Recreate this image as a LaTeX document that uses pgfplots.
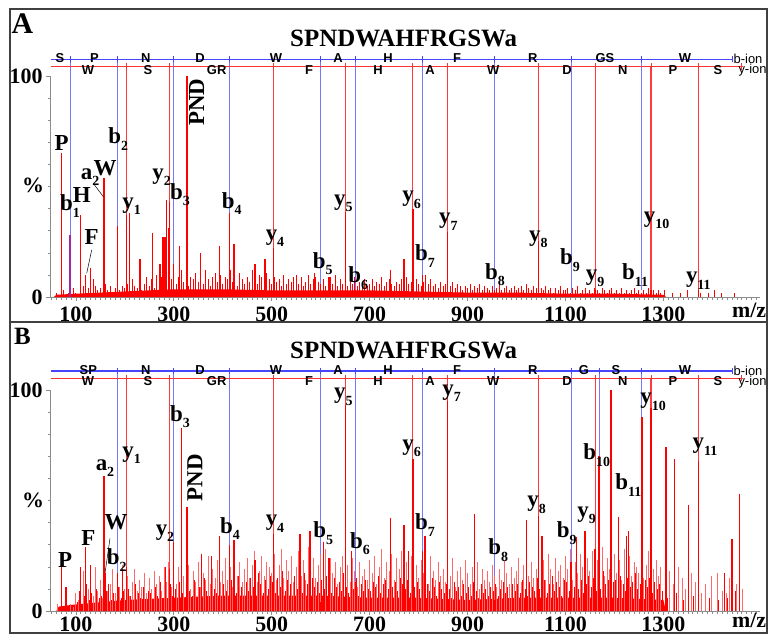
\documentclass[border=0pt]{standalone}
\usepackage{pgfplots}
\pgfplotsset{compat=1.18}
\usepackage{fontspec}
\setmainfont{Liberation Serif}
\newfontfamily\arialf{Liberation Sans}
\definecolor{ladb}{RGB}{70,70,255}
\definecolor{ladr}{RGB}{255,50,50}
\definecolor{annb}{RGB}{120,120,255}
\definecolor{annr}{RGB}{255,60,60}
\definecolor{pinkr}{RGB}{255,105,105}
\definecolor{purp}{RGB}{160,40,160}
\newcommand{\lf}{\fontsize{23}{23}\selectfont\bfseries}
\newcommand{\ion}[2]{#1\raisebox{-0.28em}{\fontsize{14}{14}\selectfont #2}}
\newcommand{\lad}{\arialf\fontsize{13}{13}\selectfont\bfseries}
\newcommand{\ladn}{\arialf\fontsize{13}{13}\selectfont}
\newcommand{\tk}{\fontsize{22}{22}\selectfont\bfseries}
\tikzset{lbl/.style={font=\lf, inner sep=0pt}}
\pgfplotsset{panel/.style={
  scale only axis, width=710bp, height=221bp, anchor=south west,
  xmin=47.15, xmax=1497.3, ymin=0, ymax=100,
  axis x line*=bottom, axis y line*=left,
  axis line style={black!45, line width=0.7bp},
  xtick={100,300,500,700,900,1100,1300},
  xticklabels={100,300,500,700,900,1100,1300},
  minor xtick={50,60,...,1490},
  ytick={0,100}, yticklabels={0,100},
  minor ytick={10,20,...,90},
  tick style={black!45, line width=0.6bp},
  tick align=outside,
  major tick length=4bp, minor tick length=2.5bp,
  yticklabel style={font=\tk, anchor=east},
  clip=false,
  unbounded coords=jump,
}}
\begin{document}
\begin{tikzpicture}
\path[use as bounding box] (0,0) rectangle (771bp,-635bp);
\draw[black!75, line width=1.6bp] (10bp,-9bp) rectangle (767bp,-322bp);
\draw[black!75, line width=1.6bp] (10bp,-322bp) rectangle (767bp,-633bp);
%================ PANEL A =================
\begin{axis}[panel, at={(50bp,-297bp)}, xticklabel style={font=\tk, anchor=base, inner sep=0pt, yshift=-20bp}]
\addplot[color=annb, line width=0.9bp] coordinates {
(88.04,107.6)(88.04,0)(88.04,nan) (185.09,107.6)(185.09,32)(185.09,nan)
(299.13,107.6)(299.13,15)(299.13,nan) (414.16,107.6)(414.16,38)(414.16,nan)
(600.24,107.6)(600.24,6)(600.24,nan) (671.28,107.6)(671.28,3)(671.28,nan)
(808.34,107.6)(808.34,10)(808.34,nan) (955.41,107.6)(955.41,2)(955.41,nan)
(1111.51,107.6)(1111.51,2)(1111.51,nan) (1255.56,107.6)(1255.56,3)};
\addplot[color=annr, line width=1.1bp] coordinates {
(204.11,104.3)(204.11,37)(204.11,nan) (291.15,104.3)(291.15,43)(291.15,nan)
(504.27,104.3)(504.27,22)(504.27,nan) (651.34,104.3)(651.34,38.6)(651.34,nan)
(788.39,104.3)(788.39,40)(788.39,nan) (859.43,104.3)(859.43,29.5)(859.43,nan)
(1045.51,104.3)(1045.51,25.5)(1045.51,nan) (1160.54,104.3)(1160.54,3)(1160.54,nan)
(1274.58,104.3)(1274.58,3)(1274.58,nan) (1371.63,104.3)(1371.63,3)};
\addplot[fill=red, draw=none] coordinates {(55,0)(60,1)(100,1.5)(200,2.5)(300,3.5)(400,3.5)(500,3)(600,3)(700,3)(800,2.5)(900,2)(1000,2)(1100,1.5)(1200,1.5)(1300,1)(1305,0)} \closedcycle;
\addplot[red, line width=1bp, ycomb] coordinates {
(60,2)(65,1)(70,1)(75,3)(80,1)(85,2)(90,1)(95,4)
(100,2)(105,1)(110,3)(115,5)(120,2)(125,4)(130,3)(135,2)(140,5)(145,3)
(150,4)(155,2)(160,6)(165,3)(170,5)(175,2)(180,4)(185,7)(190,3)(195,5)
(200,4)(205,6)(210,3)(215,8)(220,5)(225,4)(230,7)(235,3)(240,6)(245,9)
(250,5)(255,8)(260,4)(265,10)(270,6)(275,9)(280,12)(285,7)(290,10)(295,8)
(300,11)(305,6)(310,9)(315,12)(320,7)(325,10)(330,5)(335,9)(340,8)(345,11)
(350,7)(355,10)(360,6)(365,12)(370,8)(375,5)(380,9)(385,11)(390,7)(395,10)
(400,6)(405,9)(410,8)(415,12)(420,7)(425,10)(430,5)(435,11)(440,8)(445,6)
(450,9)(455,7)(460,12)(465,8)(470,6)(475,10)(480,9)(485,7)(490,11)(495,8)
(500,6)(505,9)(510,7)(515,8)(520,5)(525,10)(530,6)(535,8)(540,7)(545,9)
(550,8)(555,6)(560,9)(565,5)(570,7)(575,10)(580,6)(585,8)(590,9)(595,7)
(600,6)(605,8)(610,5)(615,9)(620,7)(625,6)(630,10)(635,5)(640,8)(645,6)
(650,7)(655,5)(660,8)(665,6)(670,9)(675,5)(680,7)(685,6)(690,8)(695,5)
(700,6)(705,8)(710,5)(715,7)(720,6)(725,9)(730,5)(735,7)(740,8)(745,6)
(750,5)(755,7)(760,6)(765,8)(770,5)(775,9)(780,6)(785,7)(790,5)(795,8)
(800,6)(805,5)(810,7)(815,4)(820,6)(825,8)(830,5)(835,6)(840,4)(845,7)
(850,5)(855,6)(860,4)(865,5)(870,7)(875,4)(880,6)(885,5)(890,3)(895,5)
(900,4)(905,6)(910,3)(915,5)(920,4)(925,6)(930,3)(935,5)(940,4)(945,3)
(950,5)(955,3)(960,4)(965,6)(970,3)(975,4)(980,5)(985,3)(990,4)(995,5)
(1000,3)(1005,4)(1010,5)(1015,3)(1020,6)(1025,4)(1030,3)(1035,5)(1040,4)(1045,3)
(1050,4)(1055,3)(1060,5)(1065,3)(1070,4)(1075,2)(1080,4)(1085,3)(1090,5)(1095,3)
(1100,3)(1105,4)(1110,2)(1115,4)(1120,3)(1125,5)(1130,2)(1135,3)(1140,4)(1145,2)
(1150,3)(1155,2)(1160,4)(1165,3)(1170,2)(1175,4)(1180,3)(1185,2)(1190,3)(1195,4)
(1200,2)(1205,3)(1210,2)(1215,4)(1220,2)(1225,3)(1230,2)(1235,3)(1240,4)(1245,2)
(1250,3)(1255,2)(1260,3)(1265,2)(1270,4)(1275,2)(1280,3)(1285,2)(1290,3)(1295,2)
(1302,3)(1318,2)(1335,2)(1350,3)(1376,2)(1392,2)(1405,3)(1418,2)(1445,2)};
\addplot[red, line width=1.3bp, ycomb] coordinates {
(70.1,65)(110,37)(120,10)(130,13)(136,8)(157.5,54)(185.1,32)(204.1,37)(210,38)
(231,17)(257,29)(272,15)(278,27)(282,27)(285,44)(289,31)(291.1,43)(299.1,15)(311,23)
(327.1,100)(355,20)(394,23)(414.2,38)(423,24)(466,15)(486,17)(504.3,22)(551,10)
(588,11)(600.2,6)(619,9)(651.3,38.6)(671.3,3)(742,12)(770,17)(788.4,40)(790,13)
(808.3,10)(814,10)(859.4,29.5)(1045.5,25.5)(1160.5,3)(1274.6,3)(1371.6,3)};
\addplot[purp, line width=1.3bp, ycomb] coordinates {(88.04,28)};
\addplot[ladb, line width=1.3bp] coordinates {(49,107.6)(1441.64,107.6)};
\addplot[ladb, line width=0.9bp] coordinates {
(88.04,106.2)(88.04,109)(88.04,nan)(185.09,106.2)(185.09,109)(185.09,nan)
(299.13,106.2)(299.13,109)(299.13,nan)(414.16,106.2)(414.16,109)(414.16,nan)
(600.24,106.2)(600.24,109)(600.24,nan)(671.28,106.2)(671.28,109)(671.28,nan)
(808.34,106.2)(808.34,109)(808.34,nan)(955.41,106.2)(955.41,109)(955.41,nan)
(1111.51,106.2)(1111.51,109)(1111.51,nan)(1255.56,106.2)(1255.56,109)(1255.56,nan)
(1441.64,106.2)(1441.64,109)};
\addplot[ladr, line width=1.3bp] coordinates {(49,104.3)(1462,104.3)};
\addplot[ladr, line width=0.9bp] coordinates {
(204.11,102.9)(204.11,105.7)(204.11,nan)(291.15,102.9)(291.15,105.7)(291.15,nan)
(504.27,102.9)(504.27,105.7)(504.27,nan)(651.34,102.9)(651.34,105.7)(651.34,nan)
(788.39,102.9)(788.39,105.7)(788.39,nan)(859.43,102.9)(859.43,105.7)(859.43,nan)
(1045.51,102.9)(1045.51,105.7)(1045.51,nan)(1160.54,102.9)(1160.54,105.7)(1160.54,nan)
(1274.58,102.9)(1274.58,105.7)(1274.58,nan)(1371.63,102.9)(1371.63,105.7)(1371.63,nan)
(1458.67,102.9)(1458.67,105.7)};
\addplot[black, line width=0.5bp] coordinates {(135.6,51.4)(156,45.4)(156,nan)(132.3,21.3)(122.1,10.7)};
\foreach \x/\t in {67.6/S,138/P,243/N,353.5/D,508.8/W,635.4/A,737.5/H,878.5/F,1033/R,1180.7/GS,1344.1/W}
  {\edef\tmp{\noexpand\node[font=\noexpand\lad, anchor=base, inner sep=0pt] at (axis cs:\x,106.0) {\t};}\tmp}
\foreach \x/\t in {124.8/W,247.3/S,387.6/GR,576.2/F,717.1/H,823.3/A,952.6/W,1103.1/D,1216.9/N,1319.6/P,1411.5/S}
  {\edef\tmp{\noexpand\node[font=\noexpand\lad, anchor=north, inner sep=0pt] at (axis cs:\x,105.0) {\t};}\tmp}
\node[font=\ladn, anchor=west, inner sep=0pt] at (axis cs:1443,107.8) {b-ion};
\node[font=\ladn, anchor=west, inner sep=0pt] at (axis cs:1453,102.7) {y-ion};
\node[font=\fontsize{30}{30}\selectfont\bfseries, inner sep=0pt] at (axis cs:-9,123.9) {A};
\node[font=\fontsize{25}{25}\selectfont\bfseries, inner sep=0pt] at (axis cs:769.6,117.2) {SPNDWAHFRGSWa};
\node[font=\tk, inner sep=0pt] at (axis cs:12.4,50.7) {\%};
\node[font=\tk, anchor=base, inner sep=0pt] at (axis cs:1475,0) [yshift=-20bp] {m/z};
\node[lbl] at (axis cs:71,69.5) {P};
\node[lbl] at (axis cs:88,41.2) {\ion{b}{1}};
\node[lbl] at (axis cs:111.9,46.2) {H};
\node[lbl] at (axis cs:128.9,54.3) {\ion{a}{2}};
\node[lbl] at (axis cs:159.5,58.4) {W};
\node[lbl] at (axis cs:186.6,71.4) {\ion{b}{2}};
\node[lbl] at (axis cs:214,41.2) {\ion{y}{1}};
\node[lbl] at (axis cs:132.3,27.3) {F};
\node[lbl] at (axis cs:275.3,54.2) {\ion{y}{2}};
\node[lbl] at (axis cs:312.7,46.2) {\ion{b}{3}};
\node[lbl, rotate=90] at (axis cs:346.8,88.2) {PND};
\node[lbl] at (axis cs:418.3,42.4) {\ion{b}{4}};
\node[lbl] at (axis cs:506.7,26.7) {\ion{y}{4}};
\node[lbl] at (axis cs:604.1,15.2) {\ion{b}{5}};
\node[lbl] at (axis cs:676.9,8.6) {\ion{b}{6}};
\node[lbl] at (axis cs:646.2,42.4) {\ion{y}{5}};
\node[lbl] at (axis cs:785.9,43.9) {\ion{y}{6}};
\node[lbl] at (axis cs:813.1,18.6) {\ion{b}{7}};
\node[lbl] at (axis cs:860.7,34.1) {\ion{y}{7}};
\node[lbl] at (axis cs:956.1,10.0) {\ion{b}{8}};
\node[lbl] at (axis cs:1044.5,26.1) {\ion{y}{8}};
\node[lbl] at (axis cs:1109.3,16.7) {\ion{b}{9}};
\node[lbl] at (axis cs:1160.3,8.5) {\ion{y}{9}};
\node[lbl] at (axis cs:1242,10.0) {\ion{b}{11}};
\node[lbl] at (axis cs:1286.3,34.8) {\ion{y}{10}};
\node[lbl] at (axis cs:1371.3,7.4) {\ion{y}{11}};
\end{axis}
%================ PANEL B =================
\begin{axis}[panel, at={(50bp,-611bp)}, xticklabel style={font=\tk, anchor=base, inner sep=0pt, yshift=-16bp}]
\addplot[color=annb, line width=0.9bp] coordinates {
(185.09,108.6)(185.09,17)(185.09,nan) (299.13,108.6)(299.13,31)(299.13,nan)
(414.16,108.6)(414.16,30)(414.16,nan) (600.24,108.6)(600.24,4)(600.24,nan)
(671.28,108.6)(671.28,13)(671.28,nan) (808.34,108.6)(808.34,27)(808.34,nan)
(955.41,108.6)(955.41,5)(955.41,nan) (1111.51,108.6)(1111.51,22)(1111.51,nan)
(1168.53,108.6)(1168.53,70)(1168.53,nan) (1255.56,108.6)(1255.56,25)};
\addplot[color=annr, line width=1.1bp] coordinates {
(204.11,105.3)(204.11,20)(204.11,nan) (291.15,105.3)(291.15,19)(291.15,nan)
(504.27,105.3)(504.27,35)(504.27,nan) (651.34,105.3)(651.34,93)(651.34,nan)
(788.39,105.3)(788.39,69)(788.39,nan) (859.43,105.3)(859.43,95)(859.43,nan)
(1045.51,105.3)(1045.51,43)(1045.51,nan) (1160.54,105.3)(1160.54,28)(1160.54,nan)
(1274.58,105.3)(1274.58,91.7)(1274.58,nan) (1371.63,105.3)(1371.63,68)};
\addplot[fill=red, draw=none] coordinates {(60,0)(65,2)(100,3)(200,5)(300,6)(400,7)(500,7)(600,7)(700,6)(800,6)(900,5)(1000,6)(1100,6)(1200,6)(1300,5)(1305,0)} \closedcycle;
\addplot[pinkr, line width=1bp, ycomb] coordinates {
(62,3)(90,3)(95,2)
(100,8)(105,5)(110,12)(115,18)(120,6)(125,10)(130,15)(135,7)(140,20)(145,9)
(150,14)(155,6)(160,17)(165,9)(170,12)(175,19)(180,8)(185,15)(190,11)(195,21)
(200,10)(205,16)(210,7)(215,13)(220,19)(225,9)(230,14)(235,11)(240,17)(245,8)
(250,15)(255,10)(260,18)(265,12)(270,16)(275,9)(280,20)(285,13)(290,22)(295,11)
(300,17)(305,12)(310,20)(315,9)(320,16)(325,14)(330,21)(335,10)(340,18)(345,13)
(350,22)(355,11)(360,17)(365,14)(370,25)(375,12)(380,19)(385,15)(390,23)(395,13)
(400,18)(405,24)(410,14)(415,20)(420,11)(425,26)(430,16)(435,22)(440,13)(445,19)
(450,24)(455,15)(460,21)(465,27)(470,13)(475,18)(480,25)(485,16)(490,22)(495,20)
(500,17)(505,26)(510,14)(515,21)(520,28)(525,15)(530,23)(535,18)(540,25)(545,13)
(550,20)(555,27)(560,16)(565,23)(570,14)(575,29)(580,18)(585,24)(590,15)(595,21)
(600,26)(605,14)(610,28)(615,19)(620,24)(625,17)(630,22)(635,12)(640,20)(645,25)
(650,15)(655,21)(660,13)(665,24)(670,18)(675,11)(680,22)(685,16)(690,19)(695,14)
(700,23)(705,17)(710,25)(715,12)(720,20)(725,28)(730,15)(735,22)(740,18)(745,26)
(750,14)(755,24)(760,19)(765,27)(770,16)(775,22)(780,13)(785,25)(790,18)(795,21)
(800,15)(805,23)(810,17)(815,20)(820,12)(825,25)(830,18)(835,14)(840,22)(845,16)
(850,19)(855,13)(860,21)(865,16)(870,24)(875,11)(880,18)(885,20)(890,14)(895,23)
(900,17)(905,12)(910,20)(915,15)(920,22)(925,10)(930,19)(935,14)(940,18)(945,13)
(950,21)(955,16)(960,11)(965,19)(970,14)(975,23)(980,17)(985,12)(990,20)(995,15)
(1000,18)(1005,24)(1010,13)(1015,21)(1020,27)(1025,16)(1030,22)(1035,15)(1040,19)(1045,25)
(1050,17)(1055,23)(1060,14)(1065,26)(1070,19)(1075,12)(1080,24)(1085,18)(1090,21)(1095,15)
(1100,25)(1105,19)(1110,28)(1115,14)(1120,22)(1125,17)(1130,26)(1135,20)(1140,13)(1145,24)
(1150,18)(1155,27)(1160,15)(1165,23)(1170,20)(1175,29)(1180,16)(1185,24)(1190,19)(1195,22)
(1200,26)(1205,17)(1210,23)(1215,14)(1220,28)(1225,19)(1230,25)(1235,16)(1240,22)(1245,20)
(1250,17)(1255,24)(1260,15)(1265,21)(1270,27)(1275,13)(1280,19)(1285,23)(1290,16)(1295,20)
(1305,14)(1312,18)(1320,12)(1330,20)(1338,15)(1346,10)(1358,17)(1365,13)(1378,8)(1385,12)
(1398,16)(1410,17)(1420,9)(1428,8)(1435,15)(1442,7)(1450,12)(1462,10)};
\addplot[red, line width=1bp, ycomb] coordinates {
(102.5,4)(107.5,9)(112.5,3)(117.5,7)(122.5,12)(127.5,5)(132.5,8)(137.5,3)(142.5,10)(147.5,6)
(152.5,7)(157.5,3)(162.5,9)(167.5,12)(172.5,5)(177.5,8)(182.5,4)(187.5,11)(192.5,6)(197.5,9)
(202.5,5)(207.5,10)(212.5,7)(217.5,4)(222.5,12)(227.5,8)(232.5,6)(237.5,11)(242.5,3)(247.5,9)
(252.5,8)(257.5,5)(262.5,11)(267.5,7)(272.5,13)(277.5,6)(282.5,9)(287.5,4)(292.5,12)(297.5,7)
(302.5,10)(307.5,6)(312.5,13)(317.5,8)(322.5,5)(327.5,12)(332.5,9)(337.5,7)(342.5,14)(347.5,6)
(352.5,11)(357.5,7)(362.5,15)(367.5,9)(372.5,6)(377.5,13)(382.5,10)(387.5,8)(392.5,16)(397.5,7)
(402.5,12)(407.5,9)(412.5,6)(417.5,14)(422.5,10)(427.5,8)(432.5,16)(437.5,11)(442.5,7)(447.5,13)
(452.5,9)(457.5,15)(462.5,11)(467.5,7)(472.5,17)(477.5,12)(482.5,8)(487.5,14)(492.5,10)(497.5,16)
(502.5,13)(507.5,8)(512.5,15)(517.5,11)(522.5,18)(527.5,9)(532.5,14)(537.5,12)(542.5,7)(547.5,16)
(552.5,10)(557.5,14)(562.5,8)(567.5,17)(572.5,12)(577.5,9)(582.5,15)(587.5,11)(592.5,13)(597.5,8)
(602.5,14)(607.5,10)(612.5,16)(617.5,12)(622.5,8)(627.5,15)(632.5,11)(637.5,13)(642.5,9)(647.5,17)
(652.5,11)(657.5,8)(662.5,13)(667.5,10)(672.5,15)(677.5,7)(682.5,12)(687.5,9)(692.5,14)(697.5,10)
(702.5,9)(707.5,13)(712.5,11)(717.5,16)(722.5,8)(727.5,12)(732.5,14)(737.5,10)(742.5,17)(747.5,11)
(752.5,13)(757.5,9)(762.5,15)(767.5,12)(772.5,10)(777.5,14)(782.5,8)(787.5,16)(792.5,11)(797.5,13)
(802.5,10)(807.5,14)(812.5,8)(817.5,12)(822.5,9)(827.5,15)(832.5,11)(837.5,7)(842.5,13)(847.5,10)
(852.5,8)(857.5,12)(862.5,10)(867.5,6)(872.5,13)(877.5,9)(882.5,11)(887.5,7)(892.5,12)(897.5,8)
(902.5,11)(907.5,7)(912.5,13)(917.5,9)(922.5,6)(927.5,12)(932.5,8)(937.5,10)(942.5,7)(947.5,11)
(952.5,9)(957.5,12)(962.5,7)(967.5,10)(972.5,13)(977.5,8)(982.5,11)(987.5,6)(992.5,12)(997.5,9)
(1002.5,12)(1007.5,8)(1012.5,14)(1017.5,10)(1022.5,7)(1027.5,13)(1032.5,11)(1037.5,9)(1042.5,15)(1047.5,10)
(1052.5,10)(1057.5,14)(1062.5,8)(1067.5,12)(1072.5,16)(1077.5,9)(1082.5,13)(1087.5,11)(1092.5,7)(1097.5,14)
(1102.5,13)(1107.5,9)(1112.5,15)(1117.5,11)(1122.5,17)(1127.5,10)(1132.5,14)(1137.5,8)(1142.5,12)(1147.5,16)
(1152.5,11)(1157.5,15)(1162.5,9)(1167.5,13)(1172.5,10)(1177.5,18)(1182.5,12)(1187.5,14)(1192.5,8)(1197.5,13)
(1202.5,14)(1207.5,10)(1212.5,16)(1217.5,12)(1222.5,9)(1227.5,15)(1232.5,11)(1237.5,13)(1242.5,17)(1247.5,10)
(1252.5,12)(1257.5,9)(1262.5,14)(1267.5,11)(1272.5,15)(1277.5,8)(1282.5,13)(1287.5,10)(1292.5,12)(1297.5,9)
(1308,6)(1326,8)(1341,5)(1362,7)(1394,6)(1412,5)(1430,6)(1447,9)};
\addplot[red, line width=1.3bp, ycomb] coordinates {
(70.1,20)(80,11)(110,20)(120,29)(130,21)(157.5,61)(159.5,17)(185.1,17)(195,19)(204.1,20)
(283,20)(291.1,19)(299.1,31)(316,83)(327.1,47)(357,26)(377,25)(394,34)(414.2,30)(423,32)
(466,23)(504.3,35)(558,35)(578,36)(600.2,4)(606,31)(617,24)(651.3,93)(663,27)(671.3,13)
(742,42)(770,39)(780,27)(788.4,69)(808.3,27)(813,34)(859.4,95)(914,44)(955.4,5)(1021,41)
(1045.5,43)(1052,34)(1111.5,22)(1123,33.6)(1140,36)(1160.5,28)(1168.5,70)(1193,100)(1208,42.7)
(1225,34)(1228,36)(1256,88)(1274.6,91.7)(1305,74)(1323,68.6)(1351,48)(1371.6,68)(1425,17)
(1440,32.6)(1456,53)};
\addplot[ladb, line width=1.3bp] coordinates {(49,108.6)(1441.64,108.6)};
\addplot[ladb, line width=0.9bp] coordinates {
(185.09,107.2)(185.09,110)(185.09,nan)(299.13,107.2)(299.13,110)(299.13,nan)
(414.16,107.2)(414.16,110)(414.16,nan)(600.24,107.2)(600.24,110)(600.24,nan)
(671.28,107.2)(671.28,110)(671.28,nan)(808.34,107.2)(808.34,110)(808.34,nan)
(955.41,107.2)(955.41,110)(955.41,nan)(1111.51,107.2)(1111.51,110)(1111.51,nan)
(1168.53,107.2)(1168.53,110)(1168.53,nan)(1255.56,107.2)(1255.56,110)(1255.56,nan)
(1441.64,107.2)(1441.64,110)};
\addplot[ladr, line width=1.3bp] coordinates {(49,105.3)(1462,105.3)};
\addplot[ladr, line width=0.9bp] coordinates {
(204.11,103.9)(204.11,106.7)(204.11,nan)(291.15,103.9)(291.15,106.7)(291.15,nan)
(504.27,103.9)(504.27,106.7)(504.27,nan)(651.34,103.9)(651.34,106.7)(651.34,nan)
(788.39,103.9)(788.39,106.7)(788.39,nan)(859.43,103.9)(859.43,106.7)(859.43,nan)
(1045.51,103.9)(1045.51,106.7)(1045.51,nan)(1160.54,103.9)(1160.54,106.7)(1160.54,nan)
(1274.58,103.9)(1274.58,106.7)(1274.58,nan)(1371.63,103.9)(1371.63,106.7)(1371.63,nan)
(1458.67,103.9)(1458.67,106.7)};
\addplot[black, line width=0.5bp] coordinates {(169.7,32.9)(159.5,17.1)};
\foreach \x/\t in {125.4/SP,243/N,353.5/D,508.8/W,635.4/A,737.5/H,878.5/F,1033/R,1137.8/G,1203.2/S,1344.1/W}
  {\edef\tmp{\noexpand\node[font=\noexpand\lad, anchor=base, inner sep=0pt] at (axis cs:\x,107.0) {\t};}\tmp}
\foreach \x/\t in {124.8/W,247.3/S,387.6/GR,576.2/F,717.1/H,823.3/A,952.6/W,1103.1/D,1216.9/N,1319.6/P,1411.5/S}
  {\edef\tmp{\noexpand\node[font=\noexpand\lad, anchor=north, inner sep=0pt] at (axis cs:\x,106.0) {\t};}\tmp}
\node[font=\ladn, anchor=west, inner sep=0pt] at (axis cs:1443,108.8) {b-ion};
\node[font=\ladn, anchor=west, inner sep=0pt] at (axis cs:1453,103.7) {y-ion};
\node[font=\fontsize{25}{25}\selectfont\bfseries, inner sep=0pt] at (axis cs:-9,124.3) {B};
\node[font=\fontsize{25}{25}\selectfont\bfseries, inner sep=0pt] at (axis cs:769.6,118.0) {SPNDWAHFRGSWa};
\node[font=\tk, inner sep=0pt] at (axis cs:12.4,50.2) {\%};
\node[font=\tk, anchor=base, inner sep=0pt] at (axis cs:1475,0) [yshift=-16bp] {m/z};
\node[lbl] at (axis cs:646.2,97.0) {\ion{y}{5}};
\node[lbl] at (axis cs:312.7,87.9) {\ion{b}{3}};
\node[lbl] at (axis cs:867.6,98.5) {\ion{y}{7}};
\node[lbl] at (axis cs:1278.8,94.7) {\ion{y}{10}};
\node[lbl] at (axis cs:214,70.6) {\ion{y}{1}};
\node[lbl] at (axis cs:159.5,64.6) {\ion{a}{2}};
\node[lbl] at (axis cs:125.4,32.9) {F};
\node[lbl] at (axis cs:77.8,23.1) {P};
\node[lbl] at (axis cs:182,40.4) {W};
\node[lbl] at (axis cs:183.4,23.1) {\ion{b}{2}};
\node[lbl] at (axis cs:282,35.2) {\ion{y}{2}};
\node[lbl, rotate=90] at (axis cs:343.3,60.2) {PND};
\node[lbl] at (axis cs:414.8,37.4) {\ion{b}{4}};
\node[lbl] at (axis cs:506.7,39.4) {\ion{y}{4}};
\node[lbl] at (axis cs:605.4,35.2) {\ion{b}{5}};
\node[lbl] at (axis cs:680.3,30.6) {\ion{b}{6}};
\node[lbl] at (axis cs:785.9,73.6) {\ion{y}{6}};
\node[lbl] at (axis cs:813.1,38.9) {\ion{b}{7}};
\node[lbl] at (axis cs:962.8,27.6) {\ion{b}{8}};
\node[lbl] at (axis cs:1041.2,48.0) {\ion{y}{8}};
\node[lbl] at (axis cs:1102.5,35.2) {\ion{b}{9}};
\node[lbl] at (axis cs:1143.3,43.4) {\ion{y}{9}};
\node[lbl] at (axis cs:1163.7,70.6) {\ion{b}{10}};
\node[lbl] at (axis cs:1228.3,57.0) {\ion{b}{11}};
\node[lbl] at (axis cs:1385,74.3) {\ion{y}{11}};
\end{axis}
\end{tikzpicture}
\end{document}
